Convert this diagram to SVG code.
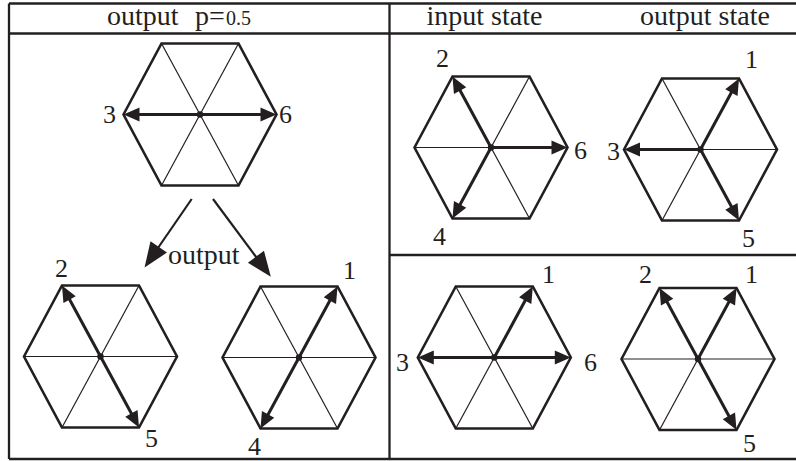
<svg xmlns="http://www.w3.org/2000/svg" xmlns:xlink="http://www.w3.org/1999/xlink" width="796" height="461" viewBox="0 0 796 461">
<style>
  .t { font-family: "Liberation Serif", "Times New Roman", serif; fill: #231f20; }
  .h { font-size: 28px; }
  .n { font-size: 26px; }
  .grid { stroke: #231f20; stroke-width: 2.3; fill: none; }
  .outline { stroke: #231f20; stroke-width: 2.6; fill: none; stroke-linejoin: miter; }
  .spoke { stroke: #231f20; stroke-width: 1.2; }
  .vec { stroke: #231f20; stroke-width: 3; fill: none; marker-end: url(#head); }
  .conn { stroke: #231f20; stroke-width: 2.2; fill: none; marker-end: url(#bighead); }
</style>
<defs>
  <marker id="head" markerUnits="userSpaceOnUse" markerWidth="18" markerHeight="16" refX="4" refY="0" viewBox="0 -8 16 16" orient="auto">
    <path d="M0,-7 L16,0 L0,7 Z" fill="#231f20"/>
  </marker>
  <marker id="bighead" markerUnits="userSpaceOnUse" markerWidth="26" markerHeight="22" refX="5" refY="0" viewBox="0 -11 25 22" orient="auto">
    <path d="M0,-10 L25,0 L0,10 Z" fill="#231f20"/>
  </marker>
  <g id="hex">
    <line class="spoke" x1="-76.5" y1="0" x2="76.5" y2="0"/>
    <line class="spoke" x1="-38.5" y1="-71" x2="38.5" y2="71"/>
    <line class="spoke" x1="38.5" y1="-71" x2="-38.5" y2="71"/>
    <path class="outline" d="M-76.5,0 L-38.5,-71 L38.5,-71 L76.5,0 L38.5,71 L-38.5,71 Z"/>
    <circle r="3.2" fill="#231f20"/>
  </g>
</defs>

<g id="table">
  <line class="grid" x1="9" y1="3.5" x2="796" y2="3.5"/>
  <line class="grid" x1="9" y1="33.5" x2="796" y2="33.5"/>
  <line class="grid" x1="9" y1="3.5" x2="9" y2="459"/>
  <line class="grid" x1="9" y1="459" x2="796" y2="459"/>
  <line class="grid" x1="389.5" y1="3.5" x2="389.5" y2="459"/>
  <line class="grid" x1="389.5" y1="255" x2="796" y2="255"/>
  <text class="t h" x="107" y="25">output<tspan x="195">p=</tspan><tspan x="226" font-size="20">0.5</tspan></text>
  <text class="t h" x="426.5" y="25">input state</text>
  <text class="t h" x="640" y="25">output state</text>
</g>

<g id="node-p05">
  <g transform="translate(200,114.5)">
    <use xlink:href="#hex"/>
    <line class="vec" x1="0" y1="0" x2="-64.5" y2="0"/>
    <line class="vec" x1="0" y1="0" x2="64.5" y2="0"/>
  </g>
  <text class="t n" x="103" y="123">3</text>
  <text class="t n" x="279" y="123">6</text>
</g>

<g id="node-out-25">
  <g transform="translate(100.5,356.5)">
    <use xlink:href="#hex"/>
    <line class="vec" x1="0" y1="0" x2="-32.8" y2="-60.45"/>
    <line class="vec" x1="0" y1="0" x2="32.8" y2="60.45"/>
  </g>
  <text class="t n" x="55" y="277">2</text>
  <text class="t n" x="145" y="447">5</text>
</g>

<g id="node-out-14">
  <g transform="translate(299,357.5)">
    <use xlink:href="#hex"/>
    <line class="vec" x1="0" y1="0" x2="32.8" y2="-60.45"/>
    <line class="vec" x1="0" y1="0" x2="-32.8" y2="60.45"/>
  </g>
  <text class="t n" x="343" y="279">1</text>
  <text class="t n" x="248" y="455">4</text>
</g>

<g id="node-in-246">
  <g transform="translate(491,147.5)">
    <use xlink:href="#hex"/>
    <line class="vec" x1="0" y1="0" x2="-32.8" y2="-60.45"/>
    <line class="vec" x1="0" y1="0" x2="-32.8" y2="60.45"/>
    <line class="vec" x1="0" y1="0" x2="64.5" y2="0"/>
  </g>
  <text class="t n" x="436" y="67">2</text>
  <text class="t n" x="433" y="245">4</text>
  <text class="t n" x="574" y="159">6</text>
</g>

<g id="node-out-135">
  <g transform="translate(700.5,149.5)">
    <use xlink:href="#hex"/>
    <line class="vec" x1="0" y1="0" x2="32.8" y2="-60.45"/>
    <line class="vec" x1="0" y1="0" x2="-64.5" y2="0"/>
    <line class="vec" x1="0" y1="0" x2="32.8" y2="60.45"/>
  </g>
  <text class="t n" x="745" y="68">1</text>
  <text class="t n" x="607" y="160">3</text>
  <text class="t n" x="742" y="247">5</text>
</g>

<g id="node-in-136">
  <g transform="translate(494.3,357.5)">
    <use xlink:href="#hex"/>
    <line class="vec" x1="0" y1="0" x2="32.8" y2="-60.45"/>
    <line class="vec" x1="0" y1="0" x2="-64.5" y2="0"/>
    <line class="vec" x1="0" y1="0" x2="64.5" y2="0"/>
  </g>
  <text class="t n" x="542" y="283">1</text>
  <text class="t n" x="396" y="371">3</text>
  <text class="t n" x="584" y="371">6</text>
</g>

<g id="node-out-125">
  <g transform="translate(698,359)">
    <use xlink:href="#hex"/>
    <line class="vec" x1="0" y1="0" x2="-32.8" y2="-60.45"/>
    <line class="vec" x1="0" y1="0" x2="32.8" y2="-60.45"/>
    <line class="vec" x1="0" y1="0" x2="32.8" y2="60.45"/>
  </g>
  <text class="t n" x="639" y="283">2</text>
  <text class="t n" x="745" y="283">1</text>
  <text class="t n" x="743" y="452">5</text>
</g>

<g id="connectors">
  <line class="conn" x1="191.7" y1="199" x2="155.9" y2="251"/>
  <line class="conn" x1="213" y1="199" x2="258.9" y2="260.7"/>
  <text class="t h" x="168" y="264">output</text>
</g>
</svg>
